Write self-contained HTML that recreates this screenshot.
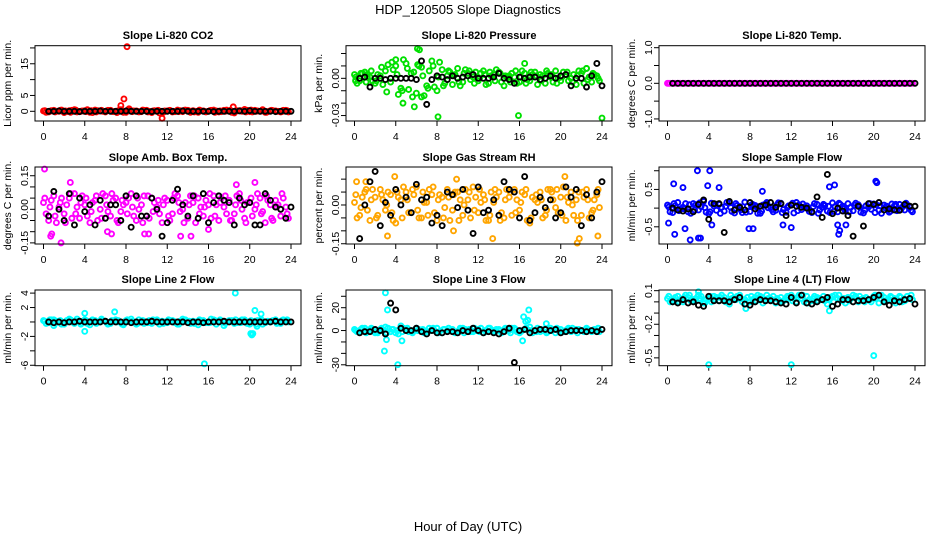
<!DOCTYPE html>
<html><head><meta charset="utf-8">
<style>
html,body{margin:0;padding:0;background:#fff;}
svg{display:block;font-family:"Liberation Sans",Arial,sans-serif;}
</style></head>
<body>
<svg id="chart" width="936" height="540" viewBox="0 0 936 540">
<text x="468" y="14" text-anchor="middle" font-size="13">HDP_120505  Slope Diagnostics</text>
<text x="468" y="531" text-anchor="middle" font-size="13">Hour of Day (UTC)</text>
</svg>
<script>
// ---- data ----
const xTicks=[0,4,8,12,16,20,24];
const titles=["Slope Li-820 CO2","Slope Li-820 Pressure","Slope Li-820 Temp.","Slope Amb. Box Temp.","Slope Gas Stream RH","Slope Sample Flow","Slope Line 2 Flow","Slope Line 3 Flow","Slope Line 4 (LT) Flow"];
const yLabels=["Licor ppm per min.","kPa per min.","degrees C per min.","degrees C per min.","percent per min.","ml/min per min.","ml/min per min.","ml/min per min.","ml/min per min."];
const seriesColors=["#ff0000","#00e000","#ff00ff","#ff00ff","#ffa500","#0000ff","#00ffff","#00ffff","#00ffff"];
const yDomains=[[-3.06,20.7],[-0.0344,0.0263],[-1.058,1.056],[-0.155,0.189],[-0.151,0.147],[-0.96,1.1],[-6.06,4.43],[-30.8,35.5],[-0.57,0.106]];
const yTickVals=[[0,5,10,15,20],[-0.03,-0.02,-0.01,0,0.01,0.02],[-1,-0.5,0,0.5,1],[-0.15,-0.1,-0.05,0,0.05,0.1,0.15],[-0.15,-0.1,-0.05,0,0.05,0.1],[-0.5,0,0.5,1],[-6,-4,-2,0,2,4],[-30,-20,-10,0,10,20,30],[-0.5,-0.4,-0.3,-0.2,-0.1,0,0.1]];
const yTickLabels=[["0","5","","15",""],["-0.03","","","0.00","",""],["-1.0","","0.0","","1.0"],["-0.15","","","0.00","","","0.15"],["-0.15","","","0.00","",""],["-0.5","","0.5",""],["-6","","-2","","2","4"],["-30","","","0","","20",""],["-0.5","","","-0.2","","","0.1"]];

const colA=[
[0.1,-0.2,0.3,0,-0.4,0.2,0.5,-0.1,0.2,-0.3,0.4,0.1,-0.2,0.3,0,0.5,-0.3,0.2,0.1,-0.1,0.3,-0.4,0.2,0,0.1,-0.2,0.4,-0.1,0.3,0.2,-0.3,0.1,0,0.4,-0.2,0.3,0.1,-0.5,0.2,0.6,-0.1,0.3,0,-0.3,0.2,0.1,-0.2,0.3],
[0.003,-0.002,0.005,0.001,-0.004,0.002,0.006,-0.003,0.010,-0.008,0.012,0.004,-0.012,0.009,-0.006,0.014,-0.010,0.007,0.002,-0.005,0.008,-0.003,0.004,0.001,-0.002,0.006,-0.004,0.003,0.005,-0.006,0.002,0.001,-0.003,0.004,-0.002,0.005,0.003,-0.004,0.001,0.006,-0.002,0.003,0.000,-0.005,0.004,0.008,-0.003,0.002],
[0,0,0,0,0,0,0,0,0,0,0,0,0,0,0,0,0,0,0,0,0,0,0,0,0,0,0,0,0,0,0,0,0,0,0,0,0,0,0,0,0,0,0,0,0,0,0,0],
[0.03,-0.05,0.06,0.01,-0.02,0.05,0.07,-0.04,0.02,-0.06,0.04,0.00,0.06,-0.03,0.05,-0.01,0.03,0.07,-0.05,0.02,-0.03,0.05,0.01,-0.06,0.04,-0.02,0.06,0.00,-0.04,0.03,0.05,-0.03,0.02,0.06,-0.05,0.01,0.04,-0.02,0.07,-0.04,0.03,0.00,0.05,-0.06,0.02,0.04,-0.03,0.01],
[0.01,-0.04,0.05,-0.06,0.03,0.06,-0.02,0.04,-0.07,0.02,0.05,-0.03,0.07,-0.05,0.01,0.04,-0.06,0.03,0.06,-0.02,0.05,-0.04,0.02,0.07,-0.03,0.04,-0.06,0.01,0.05,-0.05,0.03,0.06,-0.02,0.04,-0.07,0.02,0.05,-0.04,0.06,-0.01,0.03,-0.06,0.05,0.02,-0.04,0.06,-0.03,0.04],
[0.08,-0.12,0.15,0.02,-0.10,0.12,-0.05,0.18,-0.15,0.06,0.10,-0.08,0.14,-0.13,0.04,0.16,-0.09,0.07,-0.14,0.11,0.03,-0.06,0.13,-0.11,0.09,0.15,-0.04,0.06,-0.12,0.10,0.02,-0.08,0.14,-0.10,0.05,0.12,-0.07,0.09,-0.13,0.03,0.11,-0.06,0.08,-0.11,0.06,0.10,-0.05,0.04],
[0.2,-0.1,0.3,0,-0.3,0.4,-0.2,0.1,0.3,-0.4,0.2,0,0.1,-0.2,0.3,-0.1,0.2,0.4,-0.3,0.1,0,-0.2,0.3,0.1,-0.1,0.2,-0.3,0.4,0,0.1,-0.4,0.2,-0.1,0.3,0,-0.5,0.2,-0.2,0.1,0.3,-0.3,0.1,0.2,-0.1,0,0.3,-0.2,0.1],
[1,-1,2,0,-2,1,3,-1,-2,4,1,-1,2,0,-1,1,2,-2,0,1,-1,2,0,-1,1,-2,2,0,1,-1,0,2,-2,1,3,0,-1,1,2,-2,1,0,-1,1,0,2,-1,0],
[0.03,0.01,0.05,0.00,0.04,0.02,0.06,-0.01,0.03,0.05,0.01,0.04,-0.02,0.03,0.06,0.02,0.00,0.04,0.05,0.01,0.03,-0.01,0.04,0.02,0.06,0.00,0.03,0.05,0.01,0.04,0.02,-0.02,0.05,0.03,0.01,0.04,0.06,0.00,0.03,0.02,0.05,-0.01,0.04,0.02,0.03,0.05,0.01,0.03]
];
const colB=[
[-0.3,0.2,0,0.4,-0.1,0.3,-0.2,0.1,0.5,-0.4,0.2,0,0.3,-0.1,0.2,-0.3,0.4,0.1,-0.2,0.3,0,0.2,-0.5,0.1,0.3,-0.1,0.2,0.4,-0.3,0,0.2,-0.2,0.3,0.1,-0.1,0.4,-0.3,0.2,0,0.3,-0.2,0.1,0.5,-0.1,0.2,0,0.3,-0.2],
[-0.004,0.004,0.001,-0.002,0.003,-0.005,0.011,0.007,-0.013,0.015,-0.009,0.005,0.010,-0.014,0.006,-0.007,0.013,-0.004,0.005,0.003,-0.006,0.007,-0.001,0.005,0.004,-0.005,0.002,0.007,-0.003,0.001,0.004,-0.004,0.006,-0.001,0.003,-0.005,0.002,0.004,-0.003,0.000,0.005,-0.002,0.003,0.006,-0.004,0.001,0.003,-0.002],
[0,0,0,0,0,0,0,0,0,0,0,0,0,0,0,0,0,0,0,0,0,0,0,0,0,0,0,0,0,0,0,0,0,0,0,0,0,0,0,0,0,0,0,0,0,0,0,0],
[-0.02,0.04,-0.06,0.05,0.02,-0.04,0.01,0.06,-0.03,0.03,-0.05,0.07,-0.01,0.04,-0.06,0.02,0.05,-0.03,0.00,0.06,-0.04,0.03,-0.02,0.05,-0.05,0.07,-0.01,0.03,0.06,-0.06,0.01,0.04,-0.04,0.02,0.05,-0.02,-0.05,0.06,0.00,0.03,-0.03,0.07,-0.01,0.04,-0.05,0.02,0.05,-0.04],
[-0.05,0.03,-0.02,0.06,-0.04,0.02,0.05,-0.06,0.03,0.07,-0.03,0.04,-0.05,0.01,0.06,-0.03,0.04,-0.01,-0.06,0.05,0.02,0.06,-0.05,0.03,0.01,-0.06,0.05,0.03,-0.03,0.06,-0.04,0.02,0.05,-0.06,0.03,0.01,-0.05,0.06,0.02,-0.03,0.07,0.01,-0.04,0.05,0.03,-0.05,0.02,-0.01],
[-0.10,0.06,-0.03,0.12,-0.14,0.09,0.04,-0.11,0.13,-0.06,0.02,0.15,-0.09,0.07,-0.12,0.05,0.10,-0.14,0.08,0.01,-0.10,0.14,-0.04,0.06,-0.13,0.09,0.03,-0.09,0.12,-0.05,0.07,-0.12,0.04,0.10,-0.08,0.02,0.13,-0.11,0.06,-0.03,0.09,-0.14,0.05,0.11,-0.07,0.02,0.08,-0.10],
[-0.2,0.3,0.1,-0.3,0.2,0,0.4,-0.1,-0.2,0.3,0,0.2,-0.3,0.1,0.2,-0.4,0.1,0,0.3,-0.2,0.2,0.1,-0.3,0,0.2,-0.1,0.1,0.3,-0.2,0,0.2,-0.1,0.4,-0.3,0.1,0,0.2,-0.1,0.3,-0.2,0,0.2,-0.3,0.1,0.2,-0.1,0.3,0],
[-1,2,0,1,-2,0,2,1,-3,2,-1,0,1,-2,2,0,-1,1,0,-2,2,1,-1,0,2,-1,0,1,-2,1,2,-1,0,1,-2,2,0,-1,1,0,-1,2,0,1,-1,0,1,-1],
[0.00,0.04,0.02,0.06,0.01,0.03,0.05,0.02,0.00,0.04,0.06,0.01,0.03,0.05,0.00,0.04,0.02,0.06,-0.01,0.03,0.05,0.02,0.01,0.04,0.03,0.06,0.00,0.02,0.05,0.03,0.01,0.04,0.06,0.02,-0.01,0.03,0.05,0.02,0.04,0.00,0.03,0.06,0.01,0.04,0.02,0.00,0.05,0.02]
];
const colC=[
[0.2,0,-0.2,0.3,0.1,-0.3,0.4,0,-0.1,0.2,-0.2,0.3,0.1,0,-0.4,0.2,0.3,-0.1,0,0.4,-0.2,0.1,0.3,-0.3,0.2,0,-0.1,0.3,0.1,-0.2,0.4,0,0.2,-0.3,0.1,0,0.3,-0.1,0.2,-0.2,0.4,0,0.1,-0.3,0.3,0,-0.1,0.2],
[0.001,0.004,-0.003,0.006,-0.002,0.009,-0.011,0.013,0.003,-0.010,0.008,-0.015,0.011,0.002,-0.008,0.010,0.001,-0.006,0.006,0.002,-0.003,0.004,0.006,-0.004,0.000,0.003,0.005,-0.002,0.004,0.002,-0.003,0.006,0.001,-0.004,0.005,0.002,-0.002,0.006,0.003,-0.004,0.001,0.005,-0.003,0.002,0.006,-0.001,0.004,0.000],
[0,0,0,0,0,0,0,0,0,0,0,0,0,0,0,0,0,0,0,0,0,0,0,0,0,0,0,0,0,0,0,0,0,0,0,0,0,0,0,0,0,0,0,0,0,0,0,0],
[0.05,0.01,-0.03,0.03,-0.06,0.07,-0.02,0.03,0.05,-0.01,0.06,-0.04,0.02,0.07,-0.05,0.04,-0.02,0.01,0.05,-0.06,0.06,-0.01,0.04,0.02,-0.03,0.05,0.03,-0.06,0.02,0.06,-0.02,0.01,0.07,-0.03,0.03,0.06,-0.05,0.02,0.04,-0.06,0.05,0.02,-0.02,0.06,-0.04,0.01,0.07,-0.02],
[0.04,-0.01,0.06,0.02,-0.05,0.04,0.00,-0.03,0.05,-0.05,0.02,0.06,-0.02,0.05,-0.04,0.07,0.02,-0.05,0.03,0.04,-0.06,0.00,0.05,-0.02,0.06,0.02,-0.04,0.06,-0.06,0.02,0.05,-0.03,0.01,0.06,-0.05,0.04,0.02,-0.02,0.05,0.06,-0.04,0.03,0.00,-0.06,0.05,0.02,-0.02,0.06],
[0.03,0.12,-0.07,-0.02,0.09,-0.05,0.14,0.01,-0.10,0.11,-0.14,0.05,0.02,0.12,-0.05,-0.11,0.08,0.03,-0.08,0.15,-0.04,0.09,-0.12,0.02,0.13,-0.07,0.11,-0.02,0.04,-0.14,0.10,0.05,-0.09,0.13,-0.01,-0.10,0.08,0.03,-0.06,0.12,-0.12,0.06,0.01,-0.08,0.10,-0.04,0.13,-0.06],
[0.1,0.3,-0.2,0.2,-0.1,0.3,0.1,-0.3,0.2,0.1,-0.2,0.4,-0.1,0.2,0,-0.3,0.3,0.1,-0.2,0.2,-0.1,0.3,0,-0.2,0.3,0.1,-0.3,0.2,0.1,-0.2,0.3,0,-0.1,0.2,0.3,-0.2,0.1,0.3,-0.1,0,0.2,-0.3,0.3,0,0.1,-0.2,0.2,0.3],
[0,1,-2,2,-1,2,-2,1,0,-1,2,-2,0,1,-1,2,-2,1,2,-1,0,-2,1,2,-1,0,2,-1,0,2,-2,1,-1,2,0,-1,1,-2,0,2,-1,1,2,-2,0,1,0,2],
[0.05,0.02,0.00,0.04,0.06,0.01,0.03,-0.01,0.05,0.02,0.04,0.00,0.06,0.02,0.03,-0.02,0.05,0.01,0.04,0.06,0.02,0.03,0.00,0.05,0.01,0.04,0.06,-0.01,0.03,0.01,0.05,0.02,0.00,0.06,0.03,0.01,0.04,0.05,0.00,0.02,0.06,0.03,0.01,0.05,-0.01,0.04,0.02,0.06]
];
const outX=[
[7.5,7.8,8.1,8.3,11.5,18.4],
[0.1,1.2,4.0,4.7,5.8,6.1,6.3,6.5,8.1,15.9,16.5,22.5,24.0],
[],
[0.1,0.7,0.8,1.7,6.2,6.6,9.8,10.2,13.3,14.3,16.0,18.7,20.5,2.6],
[0.2,1.1,3.2,3.9,9.6,13.4,21.6,21.8,23.6,20.4,9.9],
[0.1,0.6,0.7,2.9,4.1,2.2,3.0,3.2,1.5,1.7,3.9,4.3,5.0,7.9,8.3,9.2,12.0,15.7,16.5,16.6,16.7,17.3,20.2,20.3,16.2,11.2],
[4,4,6.9,15.6,18.6,20.1,20.2,20.3,20.5,20.7,1.0,21.1],
[3.0,3.2,2.9,4.2,3.1,4.6,16.4,16.6,16.8,16.9,18.6,16.3],
[4,12,20,15.7,7.6,3.0]
];
const outY=[
[1.8,3.9,20.5,0.8,-2.2,1.4],
[-0.002,0.003,0.015,-0.020,-0.023,0.024,0.023,-0.015,-0.031,-0.030,0.012,0.008,-0.032],
[],
[0.18,-0.12,-0.11,-0.15,-0.10,-0.11,-0.11,-0.11,-0.12,-0.12,-0.09,0.11,0.12,0.12],
[0.09,0.09,-0.12,0.11,-0.10,-0.13,-0.16,-0.13,-0.12,0.11,0.10],
[-0.40,0.65,-0.70,1.0,1.0,-0.85,-0.80,-0.80,0.55,-0.55,0.60,-0.45,0.55,-0.55,-0.55,0.45,-0.52,0.57,-0.45,-0.70,-0.60,-0.45,0.72,0.68,0.62,-0.45],
[1.2,-1.3,1.4,-5.8,4.0,-1.6,-1.8,-1.6,1.6,-0.6,-0.5,1.1],
[33,18,-18,-30,-8,-9,12,8,9,18,6,-9],
[-0.58,-0.58,-0.48,-0.08,-0.06,0.09]
];
const blackY=[
[0,0,0.1,0,0,0,-0.1,0,0,0,0.1,0,0,0,0,0.1,0,0,0,0,-0.1,0,0,0,0,0,0.1,0,0,0,0,0,-0.1,0,0,0,0,0.1,0,0.2,0,0,0,0,-0.1,0,0,0],
[0,0.001,-0.007,0,0,-0.001,0,0,0,0,0,-0.001,0.014,-0.021,-0.001,0.002,0.001,-0.001,0.002,0,0.001,0.002,0.003,0,0,0,0.001,0.004,0,-0.001,-0.004,0.001,0,0.001,0.001,-0.001,0,0.002,0,0.002,0.003,-0.006,0,0,-0.007,0.002,0.012,-0.006],
[0,0,0,0,0,0,0,0,0,0,0,0,0,0,0,0,0,0,0,0,0,0,0,0,0,0,0,0,0,0,0,0,0,0,0,0,0,0,0,0,0,0,0,0,0,0,0,0],
[-0.03,0.08,0.00,-0.05,0.07,-0.07,0.05,-0.01,0.02,-0.07,0.04,-0.04,0.02,0.02,-0.05,0.06,-0.08,0.06,-0.03,-0.03,0.05,0.00,-0.12,-0.06,0.04,0.09,0.02,-0.03,0.06,-0.04,0.07,-0.06,0.03,0.06,0.04,0.03,-0.07,0.05,0.02,0.03,-0.07,-0.07,0.07,0.04,0.01,0.00,-0.04,0.01],
[-0.13,0.00,0.09,0.13,-0.08,0.01,-0.04,0.06,0.00,0.03,-0.03,0.08,0.02,0.03,-0.07,-0.04,-0.08,0.05,0.04,-0.01,0.06,-0.02,-0.11,0.07,-0.03,-0.02,0.02,-0.04,0.09,0.06,0.05,-0.05,0.11,-0.06,-0.03,0.03,-0.01,0.02,-0.05,-0.03,0.07,0.03,0.06,-0.08,0.04,-0.05,0.05,0.09],
[0.0,-0.05,-0.08,-0.02,-0.10,0.10,0.22,-0.30,0.12,0.12,-0.65,0.18,-0.05,0.02,-0.05,0.15,-0.02,0.05,0.08,0.15,0.02,0.12,-0.20,0.08,0.05,0.02,0.00,-0.10,0.30,-0.25,0.90,-0.15,0.00,-0.08,-0.20,-0.75,0.05,-0.48,0.12,0.10,0.15,-0.05,-0.02,-0.05,-0.06,0.10,0.05,0.05],
[0,-0.1,0,-0.1,0,0,0.1,0,0,0,0,0.1,0,0,0,0,-0.1,0,0,0,0.1,0,0,0,0,0,0,-0.1,0,0,-0.1,0,0,0,0.1,0,0,0,0,0,0,0,0,0,0.1,0,0,0],
[-2,-1,-1,1,0,-3,24,18,2,0,0,2,-1,-3,0,-2,-2,-1,-1,-2,0,-1,2,0,-2,-1,-2,-3,-1,2,-28,0,1,-2,0,1,1,0,1,-2,-1,0,0,0,-1,0,-1,1],
[0.00,-0.01,0.02,-0.01,0.00,-0.03,-0.04,0.05,0.01,0.01,0.01,0.00,0.02,0.04,-0.02,-0.03,0.00,0.02,0.01,0.01,0.00,-0.01,-0.02,0.04,-0.01,0.06,-0.01,-0.02,0.00,0.02,0.04,-0.04,-0.02,0.02,0.02,0.00,0.01,0.01,0.02,0.04,0.06,0.00,-0.03,0.01,0.00,0.02,0.03,-0.02]
];

// ---- layout ----
const NS="http://www.w3.org/2000/svg";
const svg=document.getElementById('chart');
const colL=[35,346,659], rowT=[45.7,167,290], rowB=[121,244,365.7], titleY=[39,161,283];
const boxW=266;
function mk(tag,attrs,parent){const e=document.createElementNS(NS,tag);for(const k in attrs)e.setAttribute(k,attrs[k]);(parent||svg).appendChild(e);return e;}

for(let p=0;p<9;p++){
  const r=Math.floor(p/3), c=p%3;
  const L=colL[c], T=rowT[r], B=rowB[r], R=L+boxW;
  const x0=L+8.5, x1=L+256;
  const xs=v=>x0+(v/24)*(x1-x0);
  const [ymin,ymax]=yDomains[p];
  const ys=v=>B-(v-ymin)/(ymax-ymin)*(B-T);
  const g=mk('g',{});
  
  
  const t=mk('text',{x:(L+R)/2,y:titleY[r],'text-anchor':'middle','font-size':'11','font-weight':'bold'},g);
  t.textContent=titles[p];
  
  
  const yl=mk('text',{x:0,y:0,'text-anchor':'middle','font-size':'10.5',transform:`translate(${L-24},${(T+B)/2}) rotate(-90)`},g);
  yl.textContent=yLabels[p];
  
  
  xTicks.forEach(v=>{
    const tk=mk('line',{x1:xs(v),x2:xs(v),y1:B,y2:B+5,stroke:'#000','stroke-width':1},g);
    
    
    const tl=mk('text',{x:xs(v),y:B+19,'text-anchor':'middle','font-size':'10.5'},g);
    tl.textContent=String(v);
    
    
  });
  const yt=yTickVals[p];
  mk('line',{x1:L,x2:L,y1:ys(yt[0]),y2:ys(yt[yt.length-1]),stroke:'#000'},g);
  yt.forEach((v,i)=>{
    const tk=mk('line',{x1:L-5,x2:L,y1:ys(v),y2:ys(v),stroke:'#000'},g);
    
    
    const lab=yTickLabels[p][i];
    if(lab){
      const tl=mk('text',{x:0,y:0,'text-anchor':'middle','font-size':'10.5',transform:`translate(${L-7},${ys(v)}) rotate(-90)`},g);
      tl.textContent=lab;
      
      
    }
  });
  const col=seriesColors[p];
  const pts=mk('g',{fill:'none','stroke-width':1.9},g);
  
  
  const dot=(x,y,color,name)=>{
    const cy=Math.max(T+1,Math.min(B-1,ys(y)));
    const e=mk('circle',{cx:xs(x),cy:cy,r:2.5,stroke:color},pts);
    
    
  };
  colA[p].forEach((v,i)=>dot(i*0.5,v,col,'point'));
  colB[p].forEach((v,i)=>dot(i*0.5+0.25,v,col,'point'));
  colC[p].forEach((v,i)=>dot(i*0.5+0.125,v,col,'point'));
  outX[p].forEach((x,i)=>dot(x,outY[p][i],col,'point-outlier'));
  blackY[p].forEach((v,i)=>dot(0.5+i*0.5,v,'#000','point-mean'));
  const bx=mk('rect',{x:L,y:T,width:boxW,height:B-T,fill:'none',stroke:'#000','stroke-width':1},g);
  
  
}
</script>
</body></html>
